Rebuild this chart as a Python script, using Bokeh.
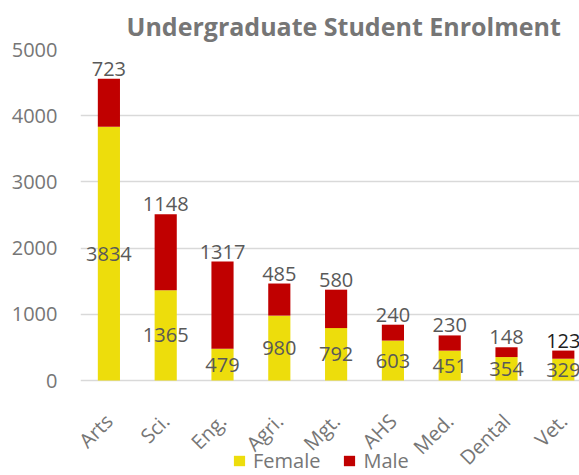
import math
from bokeh.plotting import figure
from bokeh.models import ColumnDataSource, Range1d, FixedTicker, Legend, LegendItem
from bokeh.core.properties import value
from bokeh.embed import file_html
from bokeh.resources import INLINE

categories = ["Arts", "Sci.", "Eng.", "Agri.", "Mgt.", "AHS", "Med.", "Dental", "Vet."]
female = [3834, 1365, 479, 980, 792, 603, 451, 354, 329]
male = [723, 1148, 1317, 485, 580, 240, 230, 148, 123]
y_ticks = [0, 1000, 2000, 3000, 4000, 5000]

FONT = "Open Sans"
YELLOW = "#EDDD0C"
RED = "#C00000"
GRAY = "#767676"
LABEL = "#595959"
male_label_colors = [LABEL] * 8 + ["#1E1E1E"]

xs = list(range(len(categories)))
totals = [f + m for f, m in zip(female, male)]
source = ColumnDataSource(dict(
    x=xs, female=female, male=male,
    female_mid=[f / 2 for f in female],
    total=totals,
    female_txt=[str(v) for v in female],
    male_txt=[str(v) for v in male],
    male_color=male_label_colors,
))

p = figure(width=579, height=475, output_backend="svg", toolbar_location=None,
           x_range=Range1d(-0.5, 8.285), y_range=Range1d(-1435, 5000),
           min_border_left=80, min_border_right=0, min_border_top=49,
           min_border_bottom=0)
p.outline_line_color = None

r = p.vbar_stack(["female", "male"], x="x", width=0.39, color=[YELLOW, RED],
                 source=source, line_color=None)

p.text(x="x", y="female_mid", text="female_txt", source=source,
       text_align="center", text_baseline="middle",
       text_font=value(FONT), text_font_size="20px", text_color=LABEL)
p.text(x="x", y="total", text="male_txt", source=source,
       text_align="center", text_baseline="middle", y_offset=-10,
       text_font=value(FONT), text_font_size="20px", text_color="male_color")

# axes
p.yaxis.ticker = FixedTicker(ticks=y_ticks)
p.xaxis.ticker = FixedTicker(ticks=xs)
p.xaxis.fixed_location = 0
p.xaxis.major_label_overrides = {i: c for i, c in enumerate(categories)}
p.xaxis.major_label_orientation = math.pi / 4
for ax in (p.xaxis, p.yaxis):
    ax.axis_line_color = None
    ax.major_tick_line_color = None
    ax.minor_tick_line_color = None
    ax.major_tick_out = 0
    ax.major_tick_in = 0
    ax.minor_tick_out = 0
    ax.minor_tick_in = 0
    ax.major_label_text_font = FONT
    ax.major_label_text_font_size = "20px"
    ax.major_label_text_color = GRAY
p.yaxis.major_label_standoff = 23
p.xaxis.major_label_standoff = 37

p.xgrid.grid_line_color = None
p.ygrid.ticker = FixedTicker(ticks=y_ticks)
p.ygrid.grid_line_color = "#D9D9D9"
p.ygrid.grid_line_width = 1.5

# title
p.title.text = "Undergraduate Student Enrolment"
p.title.align = "left"
p.title.offset = 46
p.title.standoff = 13
p.title.text_font = FONT
p.title.text_font_size = "25px"
p.title.text_font_style = "bold"
p.title.text_color = GRAY

legend = Legend(items=[LegendItem(label="Female", renderers=[r[0]]),
                       LegendItem(label="Male", renderers=[r[1]])],
                orientation="horizontal", location=(152, 1))
legend.padding = 0
legend.margin = 0
legend.spacing = 22
legend.glyph_width = 14
legend.glyph_height = 13
legend.label_standoff = 7
legend.label_text_font = FONT
legend.label_text_font_size = "20px"
legend.label_text_color = GRAY
legend.border_line_color = None
legend.background_fill_alpha = 0
p.add_layout(legend, "center")

open("out.html", "w").write(file_html(p, INLINE))
